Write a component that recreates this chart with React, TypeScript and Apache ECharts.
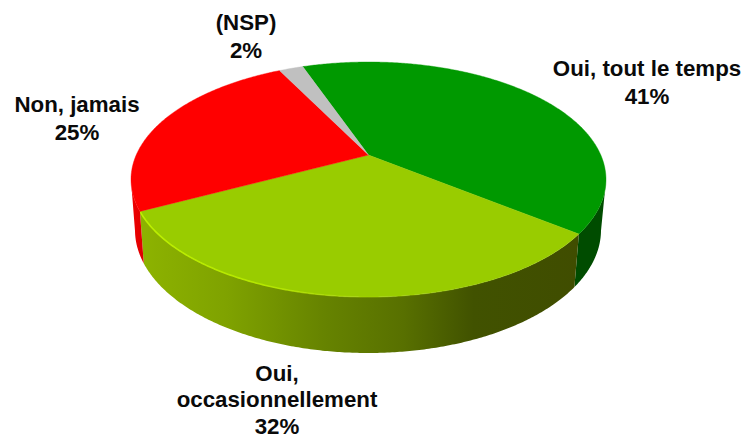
import React, { useEffect, useRef } from "react";
import * as echarts from "echarts";

const categories = ["Oui, tout le temps", "Oui,\noccasionnellement", "Non, jamais", "(NSP)"];
const values = [41, 32, 25, 2];

const topColors = ["#009900", "#99cc00", "#ff0000", "#c0c0c0"];

const START_DEG = -19.8;
const TOP = { cx: 368.5, cy: 179.5, rx: 237.5, ry: 117.5 };
const BOTTOM = { cx: 368, cy: 230, rx: 233, ry: 123 };
const APEX_SHIFT = -0.208; // perspective shift of the pie's centre

const labelPos = [
  { x: 647, y: 68.5, gap: 27.8 },
  { x: 277, y: 373, gap: 26.7 },
  { x: 77, y: 104.5, gap: 27.8 },
  { x: 246, y: 22.5, gap: 27.8 },
];

function project(deg: number) {
  const t = (deg * Math.PI) / 180;
  const u = Math.sin(t);
  const v = -Math.cos(t);
  const a = APEX_SHIFT;
  const d = 1 + a * v;
  return { u: (u * Math.sqrt(1 - a * a)) / d, v: (v + a) / d };
}
const onEllipse = (e: typeof TOP, p: { u: number; v: number }) => [e.cx + e.rx * p.u, e.cy + e.ry * p.v];

function wallFill(i: number): any {
  const G = echarts.graphic.LinearGradient;
  if (i === 0) return "#004c00";
  if (i === 1)
    return new G(0, 0, 1, 0, [
      { offset: 0, color: "#8db300" },
      { offset: 0.2, color: "#7fa200" },
      { offset: 0.42, color: "#668300" },
      { offset: 0.6, color: "#587000" },
      { offset: 0.76, color: "#415200" },
      { offset: 1, color: "#404d00" },
    ]);
  if (i === 2)
    return new G(0, 0, 1, 0, [
      { offset: 0, color: "#f00000" },
      { offset: 1, color: "#dd0000" },
    ]);
  return "#808080";
}

function renderSlice(params: any, api: any) {
  const i = params.dataIndex;
  const total = values.reduce((s, x) => s + x, 0);
  const before = values.slice(0, i).reduce((s, x) => s + x, 0);
  const a0 = START_DEG + (before / total) * 360;
  const a1 = a0 + (api.value(0) / total) * 360;
  const top: number[][] = [onEllipse(TOP, { u: 0, v: APEX_SHIFT })];
  const wallTop: number[][] = [];
  const wallBottom: number[][] = [];
  const n = Math.ceil((a1 - a0) * 2);
  for (let k = 0; k <= n; k++) {
    const p = project(a0 + ((a1 - a0) * k) / n);
    const pt = onEllipse(TOP, p);
    top.push(pt);
    if (p.v >= 0) {
      wallTop.push(pt);
      wallBottom.push(onEllipse(BOTTOM, p));
    }
  }
  const children: any[] = [];
  if (wallTop.length > 1) {
    children.push({
      type: "polygon",
      shape: { points: wallTop.concat(wallBottom.slice().reverse()) },
      style: { fill: wallFill(i) },
    });
  }
  children.push({
    type: "polygon",
    shape: { points: top },
    style: { fill: api.visual("color"), stroke: api.visual("color"), lineWidth: 0.4 },
  });
  if (i === 1) {
    children.push({
      type: "polyline",
      shape: { points: wallTop },
      style: {
        fill: "none",
        lineWidth: 1.6,
        stroke: new echarts.graphic.LinearGradient(1, 0, 0, 0, [
          { offset: 0, color: "rgba(153,204,0,0)" },
          { offset: 0.5, color: "rgba(190,235,0,0.2)" },
          { offset: 0.72, color: "#b4e600" },
          { offset: 1, color: "#bdf000" },
        ]),
      },
    });
  }
  return { type: "group", children };
}

export default function App() {
  const ref = useRef<HTMLDivElement>(null);
  useEffect(() => {
    const chart = echarts.init(ref.current!, null, { renderer: "svg" });
    const labels: any[] = [];
    categories.forEach((name, i) => {
      `${name}\n${values[i]}%`.split("\n").forEach((line, k) => {
        labels.push({
          type: "text",
          x: labelPos[i].x,
          y: labelPos[i].y + k * labelPos[i].gap,
          style: {
            text: line,
            fill: "#0a0a0a",
            font: 'bold 22.3px "Liberation Sans", Arial, sans-serif',
            lineHeight: 16,
            align: "center",
            verticalAlign: "middle",
          },
        });
      });
    });
    chart.setOption({
      animation: false,
      backgroundColor: "#ffffff",
      color: topColors,
      graphic: labels,
      series: [
        {
          type: "custom",
          coordinateSystem: "none",
          silent: true,
          colorBy: "data",
          renderItem: renderSlice,
          data: values.map((v, i) => ({ name: categories[i], value: [v] })),
        },
      ],
    });
    return () => chart.dispose();
  }, []);
  return <div ref={ref} style={{ position: "fixed", left: 0, top: 0, width: 742, height: 438 }} />;
}
